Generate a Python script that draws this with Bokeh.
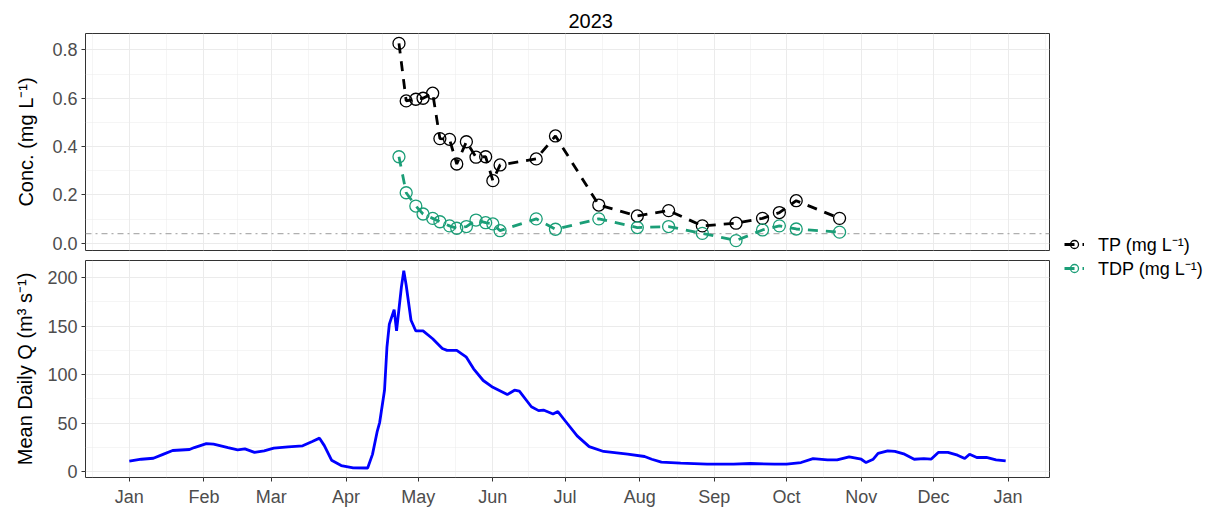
import pandas as pd
from bokeh.plotting import figure
from bokeh.layouts import row, column
from bokeh.models import (Range1d, FixedTicker, DatetimeTickFormatter, Span, Legend,
                          LegendItem, ColumnDataSource, Grid, CustomJSTickFormatter)
from bokeh.embed import file_html
from bokeh.resources import INLINE

# ---------------- data ----------------
title_text = "2023"
sample_dates = ["2023-04-23", "2023-04-26", "2023-04-30", "2023-05-03", "2023-05-07",
                "2023-05-10", "2023-05-14", "2023-05-17", "2023-05-21", "2023-05-25",
                "2023-05-29", "2023-06-01", "2023-06-04", "2023-06-19", "2023-06-27",
                "2023-07-15", "2023-07-31", "2023-08-13", "2023-08-27", "2023-09-10",
                "2023-09-21", "2023-09-28", "2023-10-05", "2023-10-23"]
tp_values = [0.827, 0.589, 0.596, 0.600, 0.621, 0.433, 0.430, 0.328, 0.420, 0.356,
             0.358, 0.259, 0.324, 0.349, 0.444, 0.158, 0.113, 0.135, 0.072, 0.083,
             0.103, 0.127, 0.176, 0.103]
tdp_values = [0.358, 0.209, 0.154, 0.121, 0.103, 0.089, 0.072, 0.062, 0.069, 0.096,
              0.085, 0.080, 0.052, 0.101, 0.058, 0.101, 0.065, 0.069, 0.041, 0.011,
              0.055, 0.072, 0.059, 0.046]
threshold = 0.04

flow_dates = ["2023-01-01", "2023-01-06", "2023-01-11", "2023-01-15", "2023-01-19",
              "2023-01-26", "2023-01-28", "2023-02-02", "2023-02-05", "2023-02-11",
              "2023-02-15", "2023-02-18", "2023-02-22", "2023-02-26", "2023-03-02",
              "2023-03-08", "2023-03-14", "2023-03-18", "2023-03-21", "2023-03-23",
              "2023-03-26", "2023-03-30", "2023-04-04", "2023-04-10", "2023-04-12",
              "2023-04-14", "2023-04-15", "2023-04-17", "2023-04-18", "2023-04-19",
              "2023-04-21", "2023-04-22", "2023-04-24", "2023-04-25", "2023-04-26",
              "2023-04-28", "2023-04-30", "2023-05-03", "2023-05-07", "2023-05-11",
              "2023-05-13", "2023-05-17", "2023-05-21", "2023-05-24", "2023-05-28",
              "2023-06-01", "2023-06-07", "2023-06-10", "2023-06-12", "2023-06-17",
              "2023-06-20", "2023-06-22", "2023-06-26", "2023-06-28", "2023-07-01",
              "2023-07-06", "2023-07-11", "2023-07-17", "2023-07-27", "2023-08-03",
              "2023-08-06", "2023-08-10", "2023-08-18", "2023-08-29", "2023-09-09",
              "2023-09-16", "2023-09-26", "2023-10-01", "2023-10-07", "2023-10-12",
              "2023-10-18", "2023-10-22", "2023-10-27", "2023-11-01", "2023-11-03",
              "2023-11-06", "2023-11-08", "2023-11-12", "2023-11-15", "2023-11-19",
              "2023-11-23", "2023-11-27", "2023-11-30", "2023-12-03", "2023-12-07",
              "2023-12-11", "2023-12-14", "2023-12-16", "2023-12-19", "2023-12-23",
              "2023-12-27", "2023-12-31"]
flow_values = [11.0, 13.0, 14.0, 18.0, 22.0, 23.0, 25.0, 29.0, 28.5, 25.0,
               22.7, 23.7, 20.0, 21.6, 24.4, 25.8, 26.8, 31.3, 34.7, 27.0,
               12.0, 6.5, 4.2, 4.0, 18.0, 42.0, 51.0, 84.0, 128.0, 152.0,
               167.0, 145.0, 190.0, 207.0, 192.0, 156.0, 145.0, 145.0, 137.0, 127.0,
               125.0, 125.0, 118.0, 106.0, 94.0, 87.0, 79.5, 84.0, 83.0, 67.0,
               63.0, 63.6, 59.5, 62.0, 52.6, 37.0, 26.0, 21.0, 18.2, 15.8,
               13.0, 10.0, 9.0, 8.0, 8.0, 8.6, 8.0, 8.0, 9.6, 13.7,
               12.4, 12.4, 15.5, 13.0, 9.6, 13.0, 19.0, 21.6, 21.0, 18.2,
               13.0, 13.7, 13.0, 20.0, 20.0, 17.2, 13.7, 18.2, 14.8, 14.8,
               12.4, 11.3]

month_starts = ["2023-01-01", "2023-02-01", "2023-03-01", "2023-04-01", "2023-05-01",
                "2023-06-01", "2023-07-01", "2023-08-01", "2023-09-01", "2023-10-01",
                "2023-11-01", "2023-12-01", "2024-01-01"]
conc_ticks = [0.0, 0.2, 0.4, 0.6, 0.8]
flow_ticks = [0, 50, 100, 150, 200]

series_labels = ["TP (mg L\u207b\u00b9)", "TDP (mg L\u207b\u00b9)"]
conc_label = "Conc. (mg L\u207b\u00b9)"
flow_label = "Mean Daily Q (m\u00b3 s\u207b\u00b9)"

# ---------------- styling ----------------
FONT = "Liberation Sans"
TP_COLOR = "black"
TDP_COLOR = "#1B9E77"
FLOW_COLOR = "#0000FF"
GRID = "#EBEBEB"
TICK_FS = "18px"

def ms(s):
    return pd.Timestamp(s).value / 1e6

major_x = [ms(d) for d in month_starts]
ext = [ms("2022-12-01")] + major_x + [ms("2024-02-01")]
minor_x = [(a + b) / 2 for a, b in zip(ext[:-1], ext[1:])]
x_ticker = FixedTicker(ticks=major_x, minor_ticks=minor_x)

xr = Range1d(start=pd.Timestamp("2023-01-01") - pd.Timedelta(days=18.2),
             end=pd.Timestamp("2023-12-31") + pd.Timedelta(days=18.2))

sample_src = ColumnDataSource(dict(date=pd.to_datetime(sample_dates), tp=tp_values, tdp=tdp_values))
flow_src = ColumnDataSource(dict(date=pd.to_datetime(flow_dates), q=flow_values))


def style_axis(ax):
    ax.axis_line_color = None
    ax.major_tick_line_color = "#333333"
    ax.major_tick_out = 4
    ax.major_tick_in = 0
    ax.minor_tick_line_color = None
    ax.major_label_text_font = FONT
    ax.major_label_text_font_size = TICK_FS
    ax.major_label_text_color = "#4D4D4D"
    ax.axis_label_text_font = FONT
    ax.axis_label_text_font_size = "20px"
    ax.axis_label_text_font_style = "normal"
    ax.axis_label_text_color = "black"
    ax.major_label_standoff = 4


def style_common(p):
    p.outline_line_color = "#333333"
    p.outline_line_width = 1
    p.background_fill_color = "white"
    p.border_fill_color = "white"
    for ax in p.yaxis:
        style_axis(ax)


def add_grids(p, y_ticker):
    gx = Grid(dimension=0, ticker=x_ticker, grid_line_color=GRID, grid_line_width=1,
              minor_grid_line_color=GRID, minor_grid_line_width=0.5, level="underlay")
    gy = Grid(dimension=1, ticker=y_ticker, grid_line_color=GRID, grid_line_width=1,
              minor_grid_line_color=GRID, minor_grid_line_width=0.5, level="underlay")
    p.add_layout(gx)
    p.add_layout(gy)


def draw_samples(p):
    rs = []
    rs.append(p.line("date", "tp", source=sample_src, line_color=TP_COLOR, line_width=2.8,
                     line_dash="10 8"))
    rs.append(p.scatter("date", "tp", source=sample_src, marker="circle", size=12, fill_alpha=0,
                        line_color=TP_COLOR, line_width=1.3))
    rs.append(p.line("date", "tdp", source=sample_src, line_color=TDP_COLOR, line_width=2.8,
                     line_dash="10 8"))
    rs.append(p.scatter("date", "tdp", source=sample_src, marker="circle", size=12, fill_alpha=0,
                        line_color=TDP_COLOR, line_width=1.3))
    return rs


# ---------------- top panel ----------------
conc_ticker = FixedTicker(ticks=conc_ticks,
                          minor_ticks=[(a + b) / 2 for a, b in zip(conc_ticks[:-1], conc_ticks[1:])])
top = figure(frame_width=964, frame_height=217, x_range=xr, y_range=Range1d(-0.030, 0.868),
             x_axis_location=None, y_axis_location="left", output_backend="svg",
             toolbar_location=None, min_border_left=85, min_border_right=15,
             min_border_top=33, min_border_bottom=5, title=title_text)
top.xgrid.visible = False
top.ygrid.visible = False
top.yaxis.ticker = conc_ticker
top.yaxis.formatter = CustomJSTickFormatter(code="return tick.toFixed(1);")
top.yaxis.axis_label = conc_label
top.yaxis.axis_label_standoff = 12
style_common(top)
add_grids(top, conc_ticker)
top.title.align = "left"
top.title.offset = 483
top.title.text_font = FONT
top.title.text_font_size = "20px"
top.title.text_font_style = "normal"
top.title.text_color = "black"
top.title.standoff = 11

top.add_layout(Span(location=threshold, dimension="width", line_color="#AFAFAF",
                    line_dash="dashdot", line_width=1.3, level="underlay"))
draw_samples(top)

# ---------------- bottom panel ----------------
flow_ticker = FixedTicker(ticks=flow_ticks,
                          minor_ticks=[(a + b) / 2 for a, b in zip(flow_ticks[:-1], flow_ticks[1:])])
bot = figure(frame_width=964, frame_height=217, x_range=xr, y_range=Range1d(-5.8, 217.5),
             x_axis_type="datetime", output_backend="svg", toolbar_location=None,
             min_border_left=85, min_border_right=15, min_border_top=5, min_border_bottom=30)
bot.xgrid.visible = False
bot.ygrid.visible = False
bot.yaxis.ticker = flow_ticker
bot.yaxis.axis_label = flow_label
bot.yaxis.axis_label_standoff = 8
bot.xaxis.ticker = x_ticker
bot.xaxis.formatter = DatetimeTickFormatter(days="%b", months="%b", years="%b")
style_common(bot)
for ax in bot.xaxis:
    style_axis(ax)
    ax.major_label_standoff = 5
add_grids(bot, flow_ticker)

bot.line("date", "q", source=flow_src, line_color=FLOW_COLOR, line_width=2.8)

# ---------------- legend panel ----------------
# legend keys reuse the sample series, drawn in a y-range where they fall out of view
leg = figure(width=148, height=507, x_range=xr, y_range=Range1d(10, 11),
             x_axis_location=None, y_axis_location=None,
             output_backend="svg", toolbar_location=None, min_border=0,
             outline_line_color=None)
leg.xgrid.visible = False
leg.ygrid.visible = False
r = draw_samples(leg)
legend = Legend(items=[LegendItem(label=series_labels[0], renderers=[r[0], r[1]]),
                       LegendItem(label=series_labels[1], renderers=[r[2], r[3]])],
                location=(0, 227), glyph_width=20, glyph_height=20, spacing=0, padding=9,
                margin=0, label_standoff=14, label_text_font=FONT, label_text_font_size="18px",
                label_text_color="black", border_line_color=None, background_fill_alpha=0)
leg.add_layout(legend)

layout = row(column(top, bot), leg)
open("out.html", "w").write(file_html(layout, INLINE))
